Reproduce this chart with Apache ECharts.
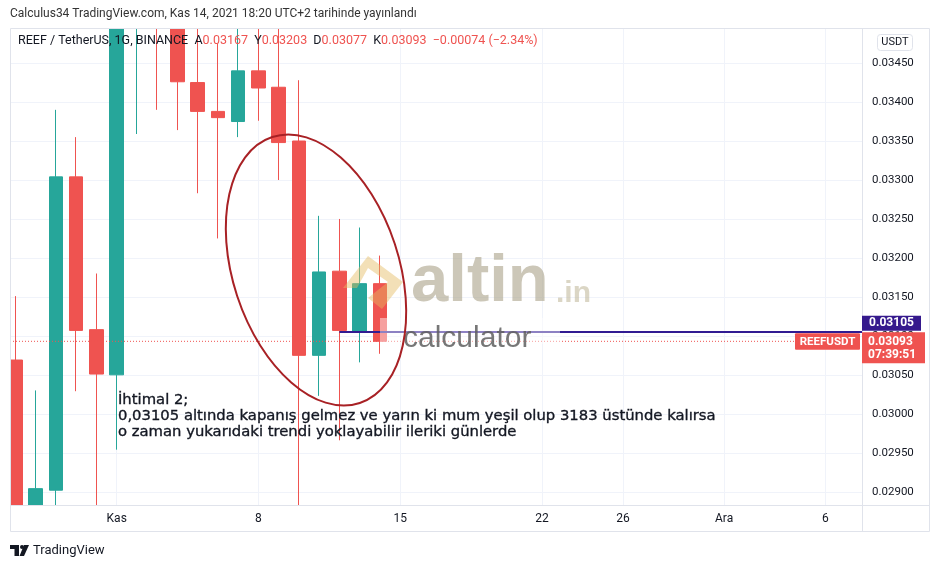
<!DOCTYPE html>
<html><head><meta charset="utf-8">
<script src="https://cdn.jsdelivr.net/npm/echarts@6/dist/echarts.min.js"></script>
<style>html,body{margin:0;padding:0;background:#fff}#c{width:940px;height:568px}</style>
</head><body><div id="c"></div>
<script>
// ---- data ----
const dates = ['2021-10-27','2021-10-28','2021-10-29','2021-10-30','2021-10-31','2021-11-01','2021-11-02','2021-11-03','2021-11-04','2021-11-05','2021-11-06','2021-11-07','2021-11-08','2021-11-09','2021-11-10','2021-11-11','2021-11-12','2021-11-13','2021-11-14'];
const opens  = [0.03069,0.02860,0.02902,0.03304,0.03108,0.03050,0.03560,0.03620,0.03530,0.03425,0.03388,0.03375,0.03440,0.03419,0.03350,0.03075,0.03183,0.03106,0.03167];
const closes = [0.02860,0.02904,0.03304,0.03107,0.03051,0.03560,0.03620,0.03530,0.03426,0.03388,0.03380,0.03440,0.03418,0.03348,0.03075,0.03182,0.03107,0.03167,0.03093];
const lows   = [0.02840,0.02850,0.02860,0.03029,0.02870,0.02954,0.03359,0.03390,0.03364,0.03283,0.03225,0.03355,0.03376,0.03300,0.02860,0.03023,0.02966,0.03066,0.03077];
const highs  = [0.03151,0.03030,0.03390,0.03355,0.03180,0.03600,0.03680,0.03650,0.03560,0.03520,0.03475,0.03500,0.03510,0.03505,0.03428,0.03254,0.03250,0.03239,0.03203];
const tickDates  = ['2021-11-01','2021-11-08','2021-11-15','2021-11-22','2021-11-26','2021-12-01','2021-12-06'];
const tickLabels = ['Kas','8','15','22','26','Ara','6'];
const priceTicks = [0.029,0.0295,0.030,0.0305,0.031,0.0315,0.032,0.0325,0.033,0.0335,0.034,0.0345];
const levelPrice = 0.03105;
const levelStart = '2021-11-12';
const lastPrice = 0.03093;
const countdown = '07:39:51';

// ---- helpers ----
const base = Date.UTC(2021,10,1);
function dayOf(s){const p=s.split('-').map(Number);return Math.round((Date.UTC(p[0],p[1]-1,p[2])-base)/86400000);}
const tickDays = tickDates.map(dayOf);
const xMin = dayOf(dates[0]) - 0.27;
const xMax = dayOf(tickDates[tickDates.length-1]) + 1.81;
const candleData = dates.map((d,i)=>[dayOf(d), opens[i], closes[i], lows[i], highs[i]]);
const UP='#26a69a', DN='#ef5350', TXT='#131722', GRID='#f0f3fa', BORDER='#e0e3eb';
const FONT='Roboto, "Noto Sans", sans-serif';

const chart = echarts.init(document.getElementById('c'));
chart.setOption({
  animation:false,
  backgroundColor:'#ffffff',
  grid:{left:10,right:78,top:28,bottom:63,show:false},
  xAxis:[
    {type:'value',min:xMin,max:xMax,position:'bottom',
      axisLine:{show:false},
      axisTick:{show:false,customValues:tickDays},
      axisLabel:{show:false},
      splitLine:{show:true,lineStyle:{color:GRID,width:1}}},
    {type:'value',min:xMin,max:xMax,position:'bottom',z:10,
      axisLine:{show:false},
      axisTick:{show:false,customValues:tickDays},
      axisLabel:{customValues:tickDays,formatter:v=>tickLabels[tickDays.indexOf(v)]||'',color:TXT,fontSize:12,fontFamily:FONT,margin:8},
      splitLine:{show:false}}
  ],
  yAxis:{type:'value',position:'right',min:0.02883,max:0.03495,scale:true,
    axisLine:{show:false},
    axisTick:{show:false,customValues:priceTicks},
    axisLabel:{customValues:priceTicks,formatter:v=>v.toFixed(5),color:TXT,fontSize:11.5,fontFamily:FONT,margin:10},
    splitLine:{show:true,lineStyle:{color:GRID,width:1}}},
  series:[
    {type:'candlestick',xAxisIndex:0,data:candleData,encode:{x:0,y:[1,2,3,4]},
      barWidth:14,clip:true,
      itemStyle:{color:UP,color0:DN,borderColor:UP,borderColor0:DN,borderWidth:1}},
    {type:'line',xAxisIndex:0,silent:true,symbol:'none',showSymbol:false,
      data:[[xMin,lastPrice],[xMax,lastPrice]],
      lineStyle:{color:DN,width:1,type:[1,2]}},
    {type:'line',xAxisIndex:0,silent:true,symbol:'none',showSymbol:false,
      data:[[dayOf(levelStart),levelPrice],[xMax,levelPrice]],
      lineStyle:{color:'#311b92',width:2,type:'solid'}}
  ]
});

const yLast = chart.convertToPixel({yAxisIndex:0}, lastPrice);

chart.setOption({graphic:[
  // covers outside plot (clip)
  {type:'rect',shape:{x:0,y:0,width:862,height:28},style:{fill:'#fff'},z:5},
  {type:'rect',shape:{x:0,y:505.5,width:862,height:63},style:{fill:'#fff'},z:5},
  {type:'rect',shape:{x:0,y:0,width:10,height:568},style:{fill:'#fff'},z:5},
  // frame
  {type:'rect',shape:{x:10.5,y:28.5,width:919,height:503},style:{fill:'none',stroke:BORDER,lineWidth:1},z:6},
  {type:'line',shape:{x1:862.5,y1:28,x2:862.5,y2:532},style:{stroke:BORDER,lineWidth:1},z:6},
  {type:'line',shape:{x1:10,y1:505.5,x2:930,y2:505.5},style:{stroke:BORDER,lineWidth:1},z:6},
  // header
  {type:'text',x:10,y:14,style:{text:'Calculus34 TradingView.com, Kas 14, 2021 18:20 UTC+2 tarihinde yayınlandı',fill:'#333',font:'12px '+FONT,verticalAlign:'middle'},z:50},
  {type:'text',x:18,y:41,style:{
    text:'REEF / TetherUS, 1G, BINANCE  A{v|0.03167}  Y{v|0.03203}  D{v|0.03077}  K{v|0.03093}  {v|−0.00074 (−2.34%)}',
    fill:TXT,font:'12.5px '+FONT,verticalAlign:'middle',
    rich:{v:{fill:DN,color:DN,font:'12.5px '+FONT}}},z:50},
  // USDT box
  {type:'rect',shape:{x:877.5,y:34.5,width:35,height:16,r:3},style:{fill:'#fff',stroke:BORDER,lineWidth:1},z:50},
  {type:'text',x:895,y:42.5,style:{text:'USDT',fill:TXT,font:'11px '+FONT,align:'center',verticalAlign:'middle'},z:51},
  // ellipse annotation
  {type:'ellipse',x:316,y:270,rotation:0.318,shape:{cx:0,cy:0,rx:83,ry:140},style:{fill:'none',stroke:'#a82125',lineWidth:2},z:40},
  // watermark
  {type:'rect',shape:{x:380,y:318,width:180,height:26},style:{fill:'rgba(255,255,255,0.45)'},z:29},
  {type:'polygon',shape:{points:[[343,288],[368,256],[403,282],[382,309],[368,298],[388,282],[368,268],[357,288]]},style:{fill:'rgba(228,186,96,0.45)'},z:30},
  {type:'text',x:411,y:283,style:{text:'altin',fill:'rgba(172,165,140,0.62)',font:'bold 67px "Liberation Sans", Arial, sans-serif',verticalAlign:'middle'},z:30},
  {type:'text',x:556,y:294,style:{text:'.in',fill:'rgba(190,180,150,0.55)',font:'bold 30px "Liberation Sans", Arial, sans-serif',verticalAlign:'middle'},z:30},
  {type:'text',x:403,y:339,style:{text:'calculator',fill:'rgba(95,95,95,0.85)',font:'30px "Liberation Sans", Arial, sans-serif',verticalAlign:'middle'},z:30},
  // text annotation
  {type:'text',x:118,y:392,style:{text:'İhtimal 2;\n0,03105 altında kapanış gelmez ve yarın ki mum yeşil olup 3183 üstünde kalırsa\no zaman yukarıdaki trendi yoklayabilir ileriki günlerde',fill:TXT,stroke:TXT,lineWidth:0.35,font:'14.8px "DejaVu Sans", sans-serif',lineHeight:16,verticalAlign:'top'},z:45},
  // price labels
  {type:'rect',shape:{x:862,y:yLast-25.5,width:59,height:15},style:{fill:'#35198d'},z:60},
  {type:'text',x:891.5,y:yLast-18,style:{text:levelPrice.toFixed(5),fill:'#fff',font:'bold 12px '+FONT,align:'center',verticalAlign:'middle'},z:61},
  {type:'rect',shape:{x:862,y:yLast-9,width:63,height:31},style:{fill:DN},z:60},
  {type:'text',x:868,y:yLast+0.5,style:{text:lastPrice.toFixed(5),fill:'#fff',font:'bold 12px '+FONT,verticalAlign:'middle'},z:61},
  {type:'text',x:868,y:yLast+14,style:{text:countdown,fill:'#fff',font:'bold 12px '+FONT,verticalAlign:'middle'},z:61},
  {type:'rect',shape:{x:795,y:yLast-8,width:65,height:16.5,r:1},style:{fill:DN},z:60},
  {type:'text',x:827.5,y:yLast+0.5,style:{text:'REEFUSDT',fill:'#fff',font:'bold 11.5px '+FONT,align:'center',verticalAlign:'middle'},z:61},
  // TradingView logo
  {type:'polygon',shape:{points:[[10,545],[19,545],[19,556],[14.5,556],[14.5,549],[10,549]]},style:{fill:TXT},z:50},
  {type:'circle',shape:{cx:22,cy:547,r:2},style:{fill:TXT},z:50},
  {type:'polygon',shape:{points:[[24,545],[29,545],[24,556],[19.5,556]]},style:{fill:TXT},z:50},
  {type:'text',x:33,y:550.5,style:{text:'TradingView',fill:TXT,font:'13px '+FONT,verticalAlign:'middle'},z:50}
]});
</script>
</body></html>
